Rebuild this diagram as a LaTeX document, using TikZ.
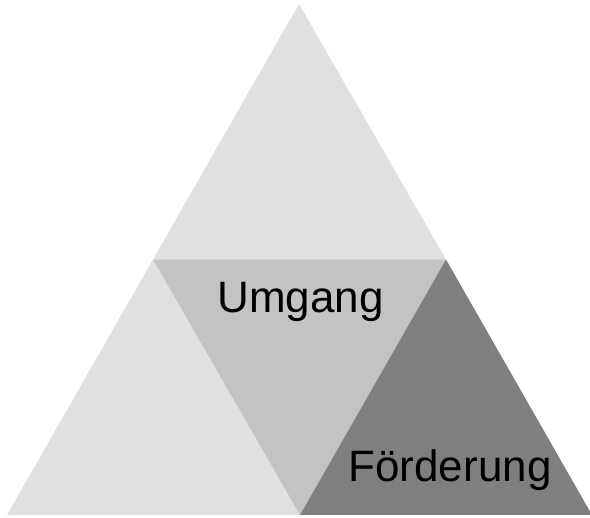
\documentclass[tikz,border=0pt]{standalone}
\usepackage{fontspec}
\setmainfont{Liberation Sans}
\definecolor{lightg}{HTML}{E0E0E0}
\definecolor{midg}{HTML}{C3C3C3}
\definecolor{darkg}{HTML}{7F7F7F}
\begin{document}
\begin{tikzpicture}[x=1pt,y=-1pt,
  piece/.style={draw=none},
  lbl/.style={anchor=base,inner sep=0pt,font=\fontsize{44}{50}\selectfont,text=black}]
\useasboundingbox (0,0) rectangle (590,518);
\coordinate (A) at (299,4);
\coordinate (BL) at (7,515);
\coordinate (BR) at (592,515);
\coordinate (ML) at (153,259.5);
\coordinate (MR) at (446,259.5);
\coordinate (MB) at (300,515);
\fill[piece,lightg] (A) -- (ML) -- (MR) -- cycle;
\fill[piece,lightg] (ML) -- (BL) -- (MB) -- cycle;
\fill[piece,midg] (ML) -- (MR) -- (MB) -- cycle;
\fill[piece,darkg] (MR) -- (MB) -- (BR) -- cycle;
\node[lbl] (umgang) at (300.5,313) {Umgang};
\node[lbl] (foerd) at (450,482) {Förderung};
\end{tikzpicture}
\end{document}
